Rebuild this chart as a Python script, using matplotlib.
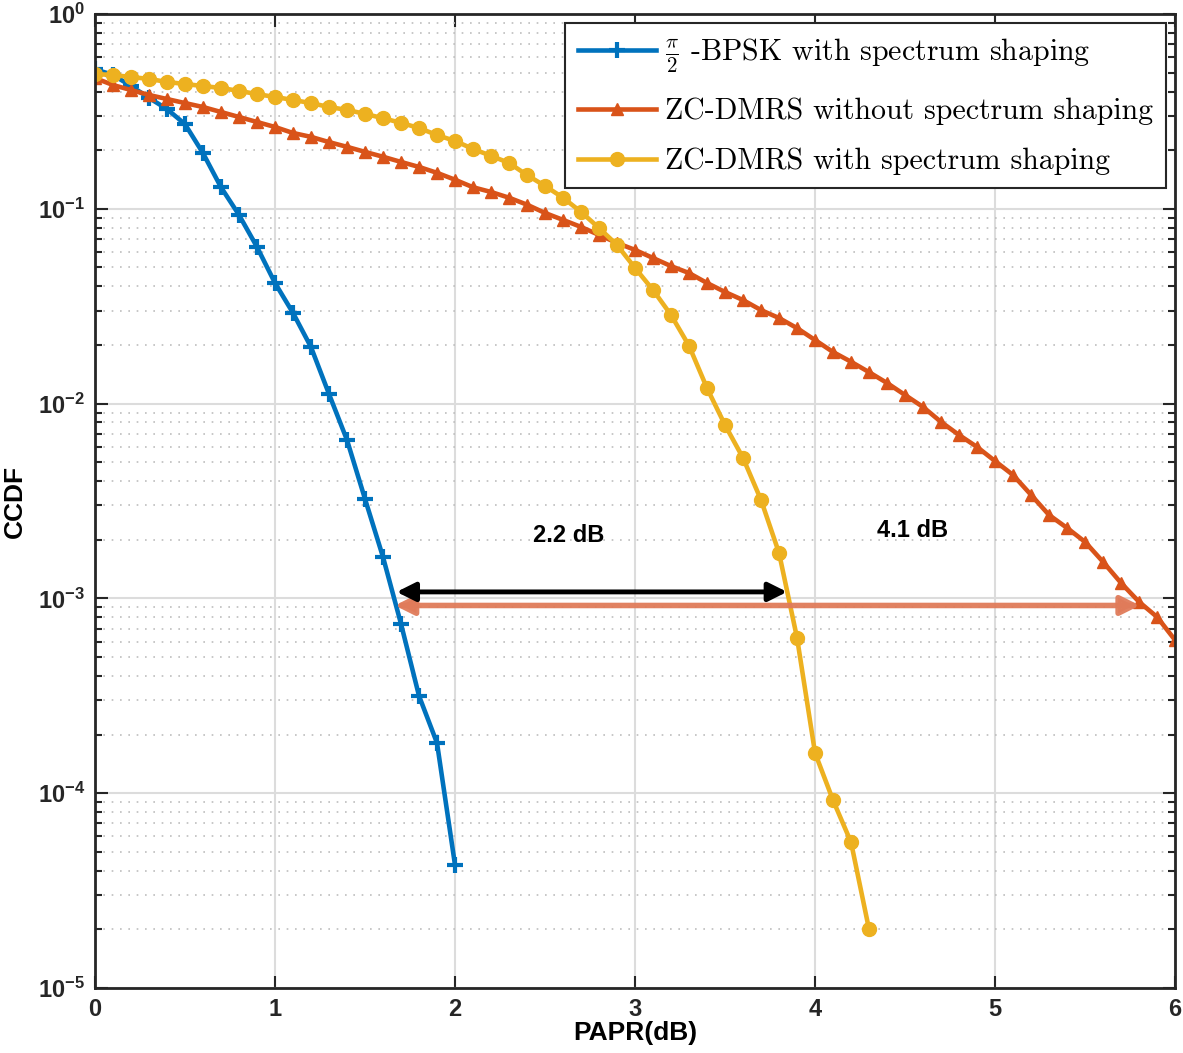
import numpy as np
import matplotlib
matplotlib.use('Agg')
import matplotlib.pyplot as plt
from matplotlib.font_manager import FontProperties

plt.rcParams['font.family'] = 'Liberation Sans'
plt.rcParams['font.weight'] = 'bold'
plt.rcParams['mathtext.fontset'] = 'custom'
plt.rcParams['mathtext.rm'] = 'Liberation Sans:bold'
plt.rcParams['mathtext.bf'] = 'Liberation Sans:bold'
plt.rcParams['mathtext.it'] = 'Liberation Sans:bold'

# PAPR (dB) grid, step 0.1
papr_bpsk = np.round(np.arange(0, 2.01, 0.1), 1)
papr_zc = np.round(np.arange(0, 6.01, 0.1), 1)
papr_zc_ss = np.round(np.arange(0, 4.31, 0.1), 1)

ccdf_bpsk = [0.52, 0.487, 0.427, 0.371, 0.325, 0.272, 0.193, 0.129, 0.093, 0.0637,
             0.0416, 0.0292, 0.0195, 0.0112, 0.0065, 0.00324, 0.00163, 0.00074,
             0.000316, 0.000181, 4.28e-5]

ccdf_zc = [0.469, 0.432, 0.407, 0.384, 0.366, 0.349, 0.333, 0.314, 0.296, 0.279,
           0.263, 0.245, 0.234, 0.220, 0.208, 0.196, 0.185, 0.174, 0.164, 0.153,
           0.141, 0.129, 0.122, 0.114, 0.105, 0.0952, 0.0877, 0.0807, 0.0734, 0.0668,
           0.0615, 0.0559, 0.0508, 0.0468, 0.0416, 0.0374, 0.0340, 0.0302, 0.0275, 0.0244,
           0.0212, 0.0184, 0.0164, 0.0145, 0.01276, 0.01107, 0.00961, 0.00805, 0.00690, 0.00599,
           0.00507, 0.00430, 0.00340, 0.00268, 0.00230, 0.00195, 0.00154, 0.00120, 0.00096,
           0.000803, 0.000611]

ccdf_zc_ss = [0.492, 0.486, 0.475, 0.464, 0.448, 0.437, 0.427, 0.417, 0.403, 0.388,
              0.375, 0.362, 0.349, 0.333, 0.322, 0.307, 0.292, 0.276, 0.260, 0.239,
              0.223, 0.203, 0.187, 0.172, 0.149, 0.131, 0.114, 0.0964, 0.0797, 0.0652,
              0.0497, 0.0383, 0.0285, 0.0198, 0.0120, 0.00776, 0.00526, 0.00320, 0.00171,
              0.000627, 0.000161, 9.2e-5, 5.6e-5, 2.0e-5]

labels = [r'$\frac{\pi}{2}$ -BPSK with spectrum shaping',
          'ZC-DMRS without spectrum shaping',
          'ZC-DMRS with spectrum shaping']

# gap annotations: (x_start, x_end, ccdf level), text (x, ccdf)
gap_black = (1.66, 3.86, 1.08e-3)
gap_coral = (1.65, 5.82, 9.2e-4)
gap_texts = [('2.2 dB', 2.63, 2.11e-3), ('4.1 dB', 4.54, 2.24e-3)]

fig = plt.figure(figsize=(11.83, 10.53), dpi=100)
ax = fig.add_axes([0.0803, 0.0617, 0.913, 0.925])

ax.plot(papr_bpsk, ccdf_bpsk, color='#0072BD', lw=3.3, marker='+', ms=11, mew=3, label=labels[0])
ax.plot(papr_zc, ccdf_zc, color='#D95319', lw=3.3, marker='^', ms=8, label=labels[1])
ax.plot(papr_zc_ss, ccdf_zc_ss, color='#EDB120', lw=3.3, marker='o', ms=10, label=labels[2])

ax.set_yscale('log')
ax.set_xlim(0, 6)
ax.set_ylim(1e-5, 1)
ax.set_xticks(range(7))
ax.set_xticklabels([str(i) for i in range(7)])
ax.set_yticks([10.0 ** k for k in range(-5, 1)])
ax.set_yticklabels([r'$10^{%d}$' % k for k in range(-5, 1)])
ax.yaxis.set_minor_locator(matplotlib.ticker.LogLocator(base=10, subs=np.arange(2, 10), numticks=20))
ax.yaxis.set_minor_formatter(matplotlib.ticker.NullFormatter())

ax.grid(True, which='major', color='#dcdcdc', lw=1.5, ls='-')
ax.grid(True, which='minor', axis='y', color='#bdbdbd', lw=1.2, ls=(0, (1, 4)))
ax.set_axisbelow(True)
ax.tick_params(which='both', direction='in', top=True, right=True, width=1.5, colors='#262626')
ax.tick_params(which='major', length=9, labelsize=17, pad=7)
ax.tick_params(which='minor', length=5)
for s in ax.spines.values():
    s.set_linewidth(2)
    s.set_color('#262626')

ax.set_xlabel('PAPR(dB)', fontsize=19, fontweight='bold', labelpad=0)
ax.set_ylabel('CCDF', fontsize=19, fontweight='bold', labelpad=8)

ax.annotate('', xy=(gap_coral[0], gap_coral[2]), xytext=(gap_coral[1], gap_coral[2]),
            arrowprops=dict(arrowstyle='<|-|>', color='#E07B5A', lw=4, mutation_scale=28, alpha=0.95))
ax.annotate('', xy=(gap_black[0], gap_black[2]), xytext=(gap_black[1], gap_black[2]),
            arrowprops=dict(arrowstyle='<|-|>', color='black', lw=3.5, mutation_scale=28))
for t, x, y in gap_texts:
    ax.text(x, y, t, ha='center', va='center', fontsize=17, fontweight='bold')

leg_font = FontProperties(family='cmr10', size=21.5, math_fontfamily='cm')
leg = ax.legend(loc='upper right', prop=leg_font, fancybox=False, framealpha=1,
                edgecolor='#262626', handlelength=2.6, borderaxespad=0.3,
                borderpad=0.45, labelspacing=0.75, handletextpad=0.3)
leg.get_frame().set_linewidth(1.5)

fig.savefig('out.png', dpi=100)
